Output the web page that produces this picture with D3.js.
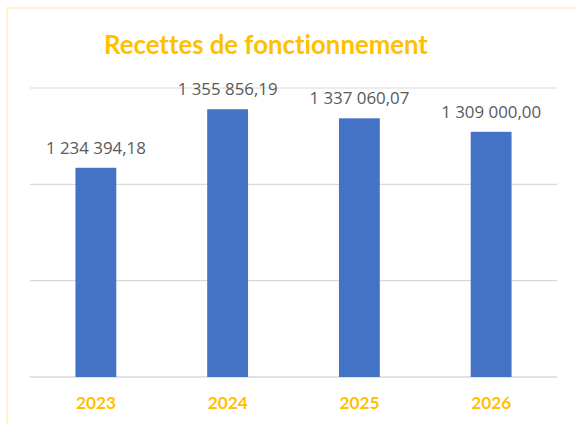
<!DOCTYPE html>
<html><head><meta charset="utf-8">
<script src="https://cdn.jsdelivr.net/npm/d3@7"></script>
<style>html,body{margin:0;padding:0;background:#fff;}svg{display:block;}text{font-variant-ligatures:none;}</style>
</head><body>
<script>
const categories = ["2023", "2024", "2025", "2026"];
const values = [1234394.18, 1355856.19, 1337060.07, 1309000.00];
const valueLabels = ["1 234 394,18", "1 355 856,19", "1 337 060,07", "1 309 000,00"];
const gridTicks = [800000, 1000000, 1200000, 1400000];
const title = "Recettes de fonctionnement";

const W = 576, H = 424;
const svg = d3.select("body").append("svg").attr("width", W).attr("height", H);
svg.append("rect").attr("width", W).attr("height", H).attr("fill", "#fff");

// frame
svg.append("path").attr("d", `M7,${H} L7,8 L${W},8`).attr("fill", "none")
  .attr("stroke", "#FFF2CC").attr("stroke-width", 2);

const x = d3.scaleBand().domain(categories).range([30, 557]).paddingInner(0.69).paddingOuter(0.345);
const y = d3.scaleLinear().domain([800000, 1400000]).range([377, 88]);

// gridlines
svg.append("g").selectAll("line").data(gridTicks).join("line")
  .attr("x1", 30).attr("x2", 557)
  .attr("y1", d => y(d)).attr("y2", d => y(d))
  .attr("stroke", "#D9D9D9").attr("stroke-width", d => d === 800000 ? 1.6 : 1.2);

// bars
svg.append("g").selectAll("rect").data(values).join("rect")
  .attr("x", (d, i) => x(categories[i]))
  .attr("width", x.bandwidth())
  .attr("y", d => y(d))
  .attr("height", d => y(800000) - y(d))
  .attr("fill", "#4472C4");

function fitText(sel, target) {
  sel.each(function () {
    const t = d3.select(this);
    const fs = parseFloat(t.attr("font-size"));
    const w = this.getComputedTextLength();
    if (w > 0) t.attr("font-size", (fs * target / w).toFixed(2));
  });
}

// value labels
svg.append("g").selectAll("text").data(values).join("text")
  .attr("x", (d, i) => x(categories[i]) + x.bandwidth() / 2)
  .attr("y", d => y(d) - 14)
  .attr("text-anchor", "middle")
  .attr("font-family", "'Open Sans', sans-serif")
  .attr("font-size", 15.4)
  .attr("fill", "#595959")
  .text((d, i) => valueLabels[i])
  .call(fitText, 100);

// category labels
const xAxis = d3.axisBottom(x).tickSize(0).tickPadding(0);
const gx = svg.append("g").attr("transform", "translate(0,377)").call(xAxis);
gx.select(".domain").remove();
gx.selectAll("text")
  .attr("dy", null).attr("y", 32)
  .attr("font-family", "Lato, 'Open Sans', sans-serif")
  .attr("font-weight", "bold")
  .attr("font-size", 19)
  .attr("fill", "#FFC000")
  .call(fitText, 40);

// title
svg.append("text")
  .attr("x", 266).attr("y", 54)
  .attr("text-anchor", "middle")
  .attr("font-family", "Lato, 'Open Sans', sans-serif")
  .attr("font-weight", "bold")
  .attr("font-size", 30)
  .attr("fill", "#FFC000")
  .text(title)
  .call(fitText, 324);
</script>
</body></html>
